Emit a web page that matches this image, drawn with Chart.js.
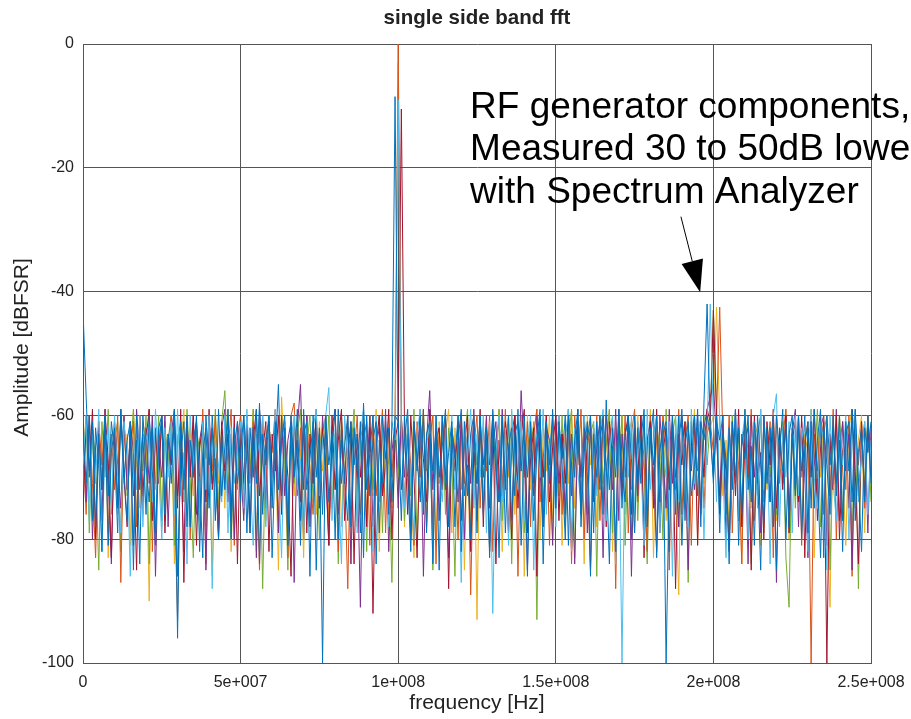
<!DOCTYPE html>
<html>
<head>
<meta charset="utf-8">
<script src="https://cdn.jsdelivr.net/npm/chart.js@4.4.1/dist/chart.umd.min.js"></script>
<style>
html,body{margin:0;padding:0;background:#fff;}
#wrap{width:911px;height:719px;position:relative;}
</style>
</head>
<body>
<div id="wrap"><canvas id="c" width="911" height="719"></canvas></div>
<script>
// ---- data (dBFSR per 1 MHz FFT bin, 0 .. 250 MHz) ----
const binHz = 1e6;
const xTickLabels = ['0','5e+007','1e+008','1.5e+008','2e+008','2.5e+008'];
const yTickLabels = ['-100','-80','-60','-40','-20','0'];
const titleText = 'single side band fft';
const xTitle = 'frequency [Hz]';
const yTitle = 'Amplitude [dBFSR]';
const noteLines = ['RF generator components,','Measured 30 to 50dB lower','with Spectrum Analyzer'];

const seriesBlue = [
-43,-57,-70,-61,-78,-63,-72,-60,-81,-66,-62,-75,-59,-69,-77,-61,-73,-64,-84,-60,-68,-74,-62,-79,-65,
-60,-76,-63,-71,-59,-86,-67,-61,-78,-64,-70,-60,-82,-66,-62,-75,-60,-69,-80,-63,-72,-59,-77,-65,-61,
-74,-60,-68,-79,-62,-71,-58,-76,-64,-61,-83,-66,-55,-73,-62,-78,-60,-70,-64,-81,-59,-72,-67,-61,-85,
-63,-100,-60,-74,-65,-59,-80,-62,-70,-77,-61,-68,-63,-79,-58,-72,-66,-60,-84,-64,-71,-61,-76,-62,-8.5,
-64,-77,-60,-70,-82,-61,-67,-74,-59,-79,-63,-69,-62,-85,-60,-72,-66,-61,-78,-64,-59,-73,-68,-80,-62,
-71,-60,-76,-63,-83,-61,-69,-74,-60,-79,-65,-62,-73,-59,-81,-64,-70,-61,-77,-66,-60,-84,-63,-71,-59,
-75,-62,-68,-80,-60,-73,-64,-59,-78,-66,-61,-86,-63,-70,-60,-76,-57.5,-72,-65,-82,-61,-69,-74,-60,-67,
-79,-62,-71,-60,-77,-64,-59,-83,-66,-61,-100,-70,-62,-76,-60,-81,-65,-61,-73,-68,-59,-78,-58,-42,-62,
-71,-60,-79,-63,-67,-84,-61,-70,-62,-76,-59,-72,-65,-81,-60,-68,-77,-62,-74,-60,-85,-64,-69,-61,-78,
-63,-72,-60,-80,-65,-61,-75,-59,-70,-83,-62,-68,-76,-60,-73,-64,-82,-61,-69,-59,-77,-66,-62,-74,-60,
-71];

const seriesBlue2 = [
-63,-71,-60,-77,-62,-68,-82,-60,-73,-61,-66,-79,-59,-70,-64,-61,-85,-60,-72,-63,-76,-60,-69,-81,-62,
-60,-74,-63,-67,-59,-96,-61,-72,-60,-78,-64,-61,-70,-83,-60,-68,-62,-77,-59,-73,-65,-60,-80,-62,-71,
-66,-60,-79,-62,-70,-59,-84,-63,-68,-60,-75,-61,-72,-64,-60,-81,-62,-69,-59,-77,-63,-61,-86,-60,-70,
-62,-76,-60,-68,-63,-80,-59,-71,-65,-60,-78,-62,-69,-61,-83,-60,-73,-64,-61,-79,-60,-67,-62,-74,-60,
-61,-72,-64,-59,-80,-62,-69,-60,-76,-63,-61,-84,-60,-70,-65,-59,-78,-62,-67,-60,-82,-61,-73,-63,-60,
-79,-60,-70,-62,-75,-59,-66,-83,-61,-72,-60,-77,-63,-61,-69,-60,-86,-62,-71,-64,-59,-78,-61,-68,-60,
-73,-61,-67,-60,-81,-63,-70,-59,-76,-62,-64,-60,-79,-61,-72,-60,-68,-84,-62,-70,-59,-75,-63,-61,-80,
-60,-71,-64,-59,-78,-62,-68,-60,-74,-63,-61,-82,-60,-70,-65,-59,-77,-62,-69,-60,-73,-61,-64,-60,-63,
-70,-61,-64,-60,-76,-62,-72,-59,-81,-63,-67,-60,-74,-61,-69,-85,-60,-71,-62,-78,-60,-66,-59,-80,-63,
-60,-73,-62,-69,-60,-79,-61,-75,-64,-59,-83,-60,-68,-62,-71,-60,-77,-63,-61,-74,-59,-70,-82,-62,-66,
-61];

const seriesLightBlue = [
-68,-60,-77,-63,-71,-59,-82,-65,-62,-75,-60,-70,-79,-61,-67,-86,-63,-72,-60,-78,-64,-61,-74,-59,-69,
-80,-62,-70,-61,-76,-59,-73,-66,-84,-60,-69,-63,-77,-61,-72,-60,-88,-64,-68,-74,-60,-79,-62,-71,-65,
-61,-75,-59,-70,-81,-63,-66,-60,-78,-62,-73,-59,-69,-83,-61,-76,-64,-60,-72,-67,-80,-61,-74,-62,-59,
-73,-64,-60,-55.5,-77,-62,-70,-84,-60,-67,-75,-61,-79,-63,-59,-71,-66,-82,-60,-74,-62,-68,-78,-61,-64,
-9,-62,-75,-60,-71,-80,-63,-59,-76,-65,-61,-83,-60,-69,-74,-62,-78,-60,-72,-64,-87,-61,-67,-59,-75,
-63,-70,-60,-79,-61,-92,-66,-60,-74,-62,-81,-59,-68,-72,-61,-77,-64,-60,-85,-63,-70,-59,-76,-65,-61,
-78,-60,-72,-64,-59,-82,-62,-69,-75,-60,-66,-80,-61,-73,-63,-59,-77,-67,-60,-84,-62,-100,-64,-70,-60,
-76,-61,-68,-81,-59,-72,-63,-60,-79,-65,-70,-61,-86,-60,-74,-62,-67,-78,-59,-71,-64,-60,-80,-63,-42,
-61,-74,-60,-69,-83,-62,-71,-59,-77,-64,-60,-80,-66,-61,-75,-59,-72,-63,-84,-60,-56.5,-78,-62,-70,-61,
-79,-60,-73,-62,-66,-82,-59,-70,-75,-61,-64,-85,-60,-71,-77,-62,-68,-60,-80,-63,-59,-74,-66,-61,-76,
-64];

const seriesDarkRed = [
-76,-61,-69,-59,-80,-63,-72,-60,-67,-83,-62,-74,-60,-70,-78,-61,-66,-85,-60,-73,-64,-59,-77,-62,-71,
-60,-79,-64,-68,-61,-75,-59,-87,-63,-70,-60,-81,-65,-62,-74,-59,-72,-67,-80,-61,-69,-63,-76,-60,-84,
-62,-71,-60,-78,-64,-59,-73,-66,-61,-82,-63,-69,-60,-76,-62,-70,-86,-61,-67,-74,-60,-79,-63,-71,-59,
-75,-62,-68,-81,-60,-72,-64,-59,-77,-66,-61,-84,-63,-70,-60,-78,-62,-92,-65,-60,-73,-68,-59,-80,-64,
-61,-10.5,-62,-76,-60,-70,-83,-61,-67,-74,-59,-79,-64,-62,-72,-60,-88,-63,-69,-61,-77,-65,-60,-82,-66,
-71,-59,-78,-62,-68,-60,-84,-64,-73,-61,-66,-80,-60,-75,-63,-59,-79,-67,-62,-86,-61,-70,-60,-74,-65,
-60,-77,-63,-71,-59,-82,-65,-61,-74,-60,-69,-85,-62,-72,-64,-60,-78,-61,-67,-81,-59,-73,-63,-60,-76,
-62,-70,-60,-83,-64,-61,-75,-59,-79,-66,-62,-72,-60,-88,-63,-68,-61,-77,-65,-60,-81,-62,-70,-59,-61,
-43,-60,-76,-63,-69,-82,-61,-73,-59,-78,-64,-62,-85,-60,-71,-66,-80,-61,-68,-59,-75,-63,-72,-60,-79,
-64,-61,-74,-60,-83,-62,-70,-59,-77,-65,-61,-100,-63,-72,-60,-80,-66,-62,-75,-59,-69,-84,-61,-73,-62,
-70];

const seriesPurple = [
-61,-74,-60,-80,-65,-62,-77,-59,-70,-84,-61,-68,-75,-60,-72,-63,-81,-59,-67,-76,-62,-71,-60,-86,-64,
-70,-60,-78,-63,-59,-73,-66,-82,-61,-69,-60,-76,-64,-61,-85,-60,-71,-67,-79,-62,-59,-74,-63,-80,-61,
-68,-77,-60,-71,-62,-83,-59,-66,-75,-61,-70,-63,-79,-60,-73,-64,-61,-87,-62,-55,-72,-60,-78,-65,-61,
-74,-60,-69,-81,-62,-59,-76,-64,-71,-60,-84,-63,-67,-91,-61,-70,-60,-78,-65,-62,-73,-59,-82,-66,-61,
-75,-60,-70,-63,-79,-61,-68,-59,-86,-64,-56,-72,-61,-77,-60,-69,-83,-62,-66,-74,-60,-80,-63,-71,-59,
-77,-62,-68,-60,-82,-65,-61,-74,-59,-70,-79,-63,-60,-72,-56,-66,-85,-61,-73,-60,-69,-78,-62,-64,-81,
-60,-71,-63,-76,-59,-68,-84,-61,-70,-62,-79,-60,-74,-65,-61,-83,-60,-67,-72,-59,-77,-63,-70,-60,-86,
-62,-73,-60,-79,-64,-61,-70,-82,-60,-67,-75,-59,-71,-63,-78,-60,-66,-85,-61,-72,-60,-76,-62,-59,-57,
-55,-64,-73,-60,-80,-62,-69,-59,-77,-65,-61,-84,-60,-70,-63,-79,-60,-68,-74,-61,-87,-62,-71,-60,-76,
-63,-59,-78,-61,-70,-83,-60,-67,-74,-62,-60,-81,-64,-72,-59,-77,-61,-69,-63,-85,-60,-73,-66,-61,-79,
-62];

const seriesOrange = [
-64,-76,-60,-71,-83,-61,-68,-59,-79,-63,-72,-60,-87,-62,-70,-65,-61,-78,-60,-74,-66,-59,-82,-63,-69,
-61,-77,-64,-60,-73,-93,-62,-70,-60,-80,-65,-61,-75,-59,-84,-63,-69,-60,-78,-62,-71,-66,-59,-81,-64,
-60,-72,-63,-79,-61,-68,-85,-60,-74,-62,-66,-59,-77,-64,-61,-83,-60,-58,-73,-62,-80,-60,-69,-76,-61,
-71,-63,-60,-78,-65,-59,-82,-61,-70,-88,-62,-67,-60,-76,-64,-61,-81,-60,-73,-66,-59,-79,-62,-70,-60,
0,-60,-74,-62,-68,-81,-61,-70,-59,-78,-64,-60,-84,-62,-72,-60,-77,-63,-66,-80,-60,-71,-62,-89,-65,
-60,-75,-62,-69,-60,-82,-64,-61,-73,-59,-79,-66,-60,-86,-62,-70,-61,-78,-63,-59,-74,-67,-60,-81,-62,
-70,-60,-76,-63,-61,-84,-60,-68,-59,-80,-65,-62,-73,-60,-77,-61,-69,-64,-60,-88,-62,-71,-60,-79,-63,
-59,-74,-61,-67,-82,-60,-70,-63,-78,-60,-65,-85,-61,-72,-59,-76,-64,-60,-81,-62,-69,-60,-75,-63,-61,
-66,-60,-42.5,-64,-72,-60,-79,-62,-68,-84,-61,-70,-59,-77,-63,-60,-74,-66,-61,-83,-60,-71,-64,-59,-78,
-62,-70,-60,-81,-64,-61,-100,-63,-69,-60,-76,-62,-73,-59,-80,-65,-61,-72,-60,-86,-63,-68,-61,-75,-60,
-67];

const seriesGreen = [
-72,-60,-79,-62,-67,-85,-61,-70,-59,-76,-64,-61,-82,-60,-73,-66,-59,-78,-62,-69,-60,-84,-63,-71,-60,
-77,-62,-68,-60,-81,-64,-61,-74,-59,-70,-83,-62,-66,-60,-78,-63,-71,-59,-75,-61,-56,-68,-80,-62,-72,
-60,-76,-63,-69,-59,-82,-61,-88,-64,-60,-73,-62,-79,-60,-67,-85,-61,-71,-63,-59,-77,-65,-60,-74,-62,
-80,-61,-69,-60,-75,-63,-84,-60,-71,-62,-66,-59,-78,-64,-61,-82,-60,-72,-65,-60,-79,-62,-68,-87,-61,
-70,-60,-77,-62,-73,-59,-81,-64,-61,-69,-60,-85,-63,-71,-60,-76,-62,-67,-86,-60,-72,-64,-59,-79,-61,
-68,-60,-75,-63,-82,-61,-70,-59,-77,-65,-60,-84,-62,-72,-60,-79,-63,-66,-61,-93,-60,-74,-62,-69,-80,
-61,-73,-60,-78,-64,-59,-83,-62,-70,-60,-76,-63,-61,-86,-60,-71,-65,-59,-79,-62,-68,-60,-81,-64,-72,
-60,-77,-62,-69,-84,-60,-73,-61,-66,-80,-59,-72,-63,-60,-78,-64,-61,-87,-60,-70,-62,-75,-60,-68,-61,
-43,-59,-74,-62,-68,-81,-60,-71,-63,-77,-60,-66,-84,-61,-73,-59,-79,-62,-70,-60,-76,-64,-61,-83,-91,
-62,-75,-60,-70,-64,-82,-61,-68,-59,-78,-63,-60,-85,-62,-72,-60,-77,-65,-61,-80,-60,-88,-63,-71,-60,
-74];

const seriesYellow = [
-66,-60,-74,-62,-79,-61,-70,-59,-83,-64,-61,-76,-60,-71,-63,-81,-59,-68,-75,-61,-64,-90,-60,-72,-62,
-78,-61,-69,-60,-84,-63,-66,-59,-77,-62,-73,-60,-80,-61,-67,-64,-86,-60,-71,-62,-75,-59,-82,-63,-69,
-60,-74,-62,-70,-59,-81,-64,-61,-77,-60,-72,-63,-85,-57,-68,-79,-60,-73,-61,-66,-83,-60,-71,-62,-76,
-61,-69,-60,-80,-63,-72,-59,-78,-64,-61,-84,-60,-70,-66,-62,-77,-60,-73,-59,-82,-63,-68,-60,-75,-62,
-3,-61,-78,-60,-70,-83,-62,-67,-59,-76,-64,-60,-81,-61,-72,-63,-59,-79,-62,-69,-60,-85,-64,-71,-60,
-93,-61,-73,-60,-78,-63,-66,-59,-82,-62,-70,-60,-76,-64,-61,-86,-60,-72,-63,-59,-80,-62,-69,-60,-77,
-63,-60,-81,-62,-71,-59,-75,-64,-61,-84,-60,-68,-62,-78,-60,-73,-65,-59,-82,-61,-70,-60,-76,-63,-61,
-79,-60,-69,-62,-74,-59,-83,-61,-67,-60,-77,-64,-61,-72,-89,-60,-75,-62,-66,-59,-80,-61,-71,-60,-62,
-60,-42.5,-61,-73,-64,-79,-60,-70,-62,-84,-59,-68,-75,-61,-63,-81,-60,-72,-65,-60,-77,-62,-69,-59,-80,
-61,-71,-60,-78,-63,-66,-59,-83,-62,-70,-60,-76,-91,-61,-73,-60,-68,-81,-62,-59,-75,-64,-60,-79,-61,
-70];

// top-most series first (Chart.js draws dataset 0 last)
const seriesList = [seriesBlue, seriesBlue2, seriesLightBlue, seriesDarkRed, seriesPurple, seriesOrange, seriesGreen, seriesYellow];
const seriesColors = ['#0072BD', '#0072BD', '#4DBEEE', '#A2142F', '#7E2F8E', '#D95319', '#77AC30', '#EDB120'];

// annotation anchor points in data units
const arrowTail = {x: 1.897e8, y: -27.9};
const arrowTip = {x: 1.958e8, y: -40.1};
const noteAnchor = {x: 1.228e8, y: -11.95};

const FONT = '"Liberation Sans", Arial, Helvetica, sans-serif';

const datasets = seriesList.map((vals, k) => ({
  data: vals.map((v, i) => ({x: i * binHz, y: v})),
  borderColor: seriesColors[k],
  borderWidth: 1,
  pointRadius: 0,
  tension: 0,
  fill: false
}));

const notePlugin = {
  id: 'note',
  afterDraw(chart) {
    const ctx = chart.ctx, xs = chart.scales.x, ys = chart.scales.y;
    const area = chart.chartArea;
    ctx.save();
    // y axis title
    ctx.fillStyle = '#222';
    ctx.font = '21px ' + FONT;
    ctx.textAlign = 'center';
    ctx.textBaseline = 'middle';
    ctx.translate(22.5, (area.top + area.bottom) / 2 - 6);
    ctx.rotate(-Math.PI / 2);
    ctx.fillText(yTitle, 0, 0);
    ctx.restore();

    ctx.save();
    ctx.fillStyle = '#000';
    ctx.font = '37px ' + FONT;
    ctx.textBaseline = 'alphabetic';
    ctx.textAlign = 'left';
    const tx = xs.getPixelForValue(noteAnchor.x);
    const ty = ys.getPixelForValue(noteAnchor.y);
    noteLines.forEach((s, i) => ctx.fillText(s, tx, ty + i * 42.5));
    const x0 = xs.getPixelForValue(arrowTail.x), y0 = ys.getPixelForValue(arrowTail.y);
    const x1 = xs.getPixelForValue(arrowTip.x), y1 = ys.getPixelForValue(arrowTip.y);
    const dx = x1 - x0, dy = y1 - y0, L = Math.hypot(dx, dy);
    const ux = dx / L, uy = dy / L;
    const hl = 32, hw = 11;
    const bx = x1 - ux * hl, by = y1 - uy * hl;
    ctx.strokeStyle = '#000';
    ctx.lineWidth = 1;
    ctx.beginPath();
    ctx.moveTo(x0, y0);
    ctx.lineTo(bx, by);
    ctx.stroke();
    ctx.beginPath();
    ctx.moveTo(x1, y1);
    ctx.lineTo(bx - uy * hw, by + ux * hw);
    ctx.lineTo(bx + uy * hw, by - ux * hw);
    ctx.closePath();
    ctx.fill();
    ctx.restore();
  }
};

new Chart(document.getElementById('c'), {
  type: 'line',
  data: {datasets},
  plugins: [notePlugin],
  options: {
    responsive: false,
    animation: false,
    normalized: true,
    layout: {padding: {left: 0, right: 40, top: 0, bottom: 0}},
    plugins: {
      legend: {display: false},
      tooltip: {enabled: false},
      title: {
        display: true,
        text: titleText,
        fullSize: false,
        color: '#222',
        font: {family: FONT, size: 20.5, weight: 'bold'},
        padding: {top: 6, bottom: 13.4}
      }
    },
    scales: {
      x: {
        type: 'linear',
        min: 0,
        max: 2.5e8,
        z: 1,
        afterFit(s) { s.height = 56; s.paddingLeft = 0; s.paddingRight = 0; },
        grid: {color: '#555', lineWidth: 1, drawTicks: false},
        border: {display: true, color: '#555'},
        ticks: {
          stepSize: 5e7,
          padding: 10,
          maxRotation: 0,
          color: '#222',
          font: {family: FONT, size: 16},
          callback: (v, i) => xTickLabels[i]
        },
        title: {
          display: true,
          text: xTitle,
          color: '#222',
          font: {family: FONT, size: 21},
          padding: {top: 0, bottom: 3}
        }
      },
      y: {
        type: 'linear',
        min: -100,
        max: 0,
        z: 1,
        afterFit(s) { s.width = 83; s.paddingTop = 0; s.paddingBottom = 0; },
        grid: {color: '#555', lineWidth: 1, drawTicks: false},
        border: {display: true, color: '#555'},
        ticks: {
          stepSize: 20,
          padding: 9,
          color: '#222',
          font: {family: FONT, size: 16},
          callback: (v, i) => yTickLabels[i]
        },
        title: {display: false}
      }
    }
  }
});
</script>
</body>
</html>
